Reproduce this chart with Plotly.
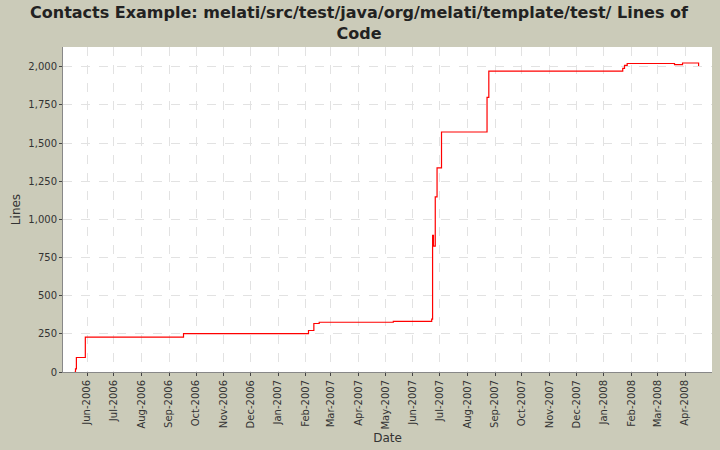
import plotly.graph_objects as go

dates = ["2006-05-18","2006-05-19","2006-05-20","2006-05-30","2006-09-17","2007-02-04","2007-02-10",
         "2007-02-16","2007-05-10","2007-06-22","2007-06-23","2007-06-24","2007-06-26","2007-06-28",
         "2007-07-03","2007-08-23","2007-08-25","2008-01-22","2008-01-24","2008-01-27","2008-03-20",
         "2008-03-29","2008-04-16"]
lines = [0,20,95,228,252,272,318,326,332,347,895,825,1148,1338,1573,1800,1972,1990,2010,2022,2015,2025,2005]
tickvals = ["2006-06-01","2006-07-01","2006-08-01","2006-09-01","2006-10-01","2006-11-01","2006-12-01",
            "2007-01-01","2007-02-01","2007-03-01","2007-04-01","2007-05-01","2007-06-01","2007-07-01",
            "2007-08-01","2007-09-01","2007-10-01","2007-11-01","2007-12-01","2008-01-01","2008-02-01",
            "2008-03-01","2008-04-01"]
title = "<b>Contacts Example: melati/src/test/java/org/melati/template/test/ Lines of<br>Code</b>"

fig = go.Figure(go.Scatter(x=dates, y=lines, mode="lines", line=dict(color="red", width=1.2, shape="hv")))
grid = dict(showgrid=True, gridcolor="#e2e2e2", griddash="dash", gridwidth=1)
fig.update_layout(
    width=720, height=450, paper_bgcolor="#cbcbb9", plot_bgcolor="white",
    font=dict(family="DejaVu Sans", size=10, color="#333"),
    margin=dict(l=63, r=8, t=47, b=78), showlegend=False,
    xaxis=dict(title=dict(text="Date", standoff=5, font=dict(size=12)), type="date", range=["2006-05-05","2008-05-01"],
               tickvals=tickvals, tickformat="%b-%Y", tickangle=-90, ticks="outside", ticklen=3,
               linecolor="#888", mirror=False, **grid),
    yaxis=dict(title=dict(text="Lines", standoff=5, font=dict(size=12)), range=[0, 2130], tickvals=list(range(0, 2001, 250)),
               tickformat=",", ticks="outside", ticklen=3, linecolor="#888", **grid),
)
fig.add_annotation(text=title, xref="paper", yref="paper", x=0.4576, y=1, xanchor="center", yanchor="bottom",
                   yshift=2, showarrow=False, font=dict(size=16, color="#222"))
fig.write_html("out.html", config={"displayModeBar": False},
               post_script="document.body.style.margin='0';document.body.style.overflow='hidden';")
